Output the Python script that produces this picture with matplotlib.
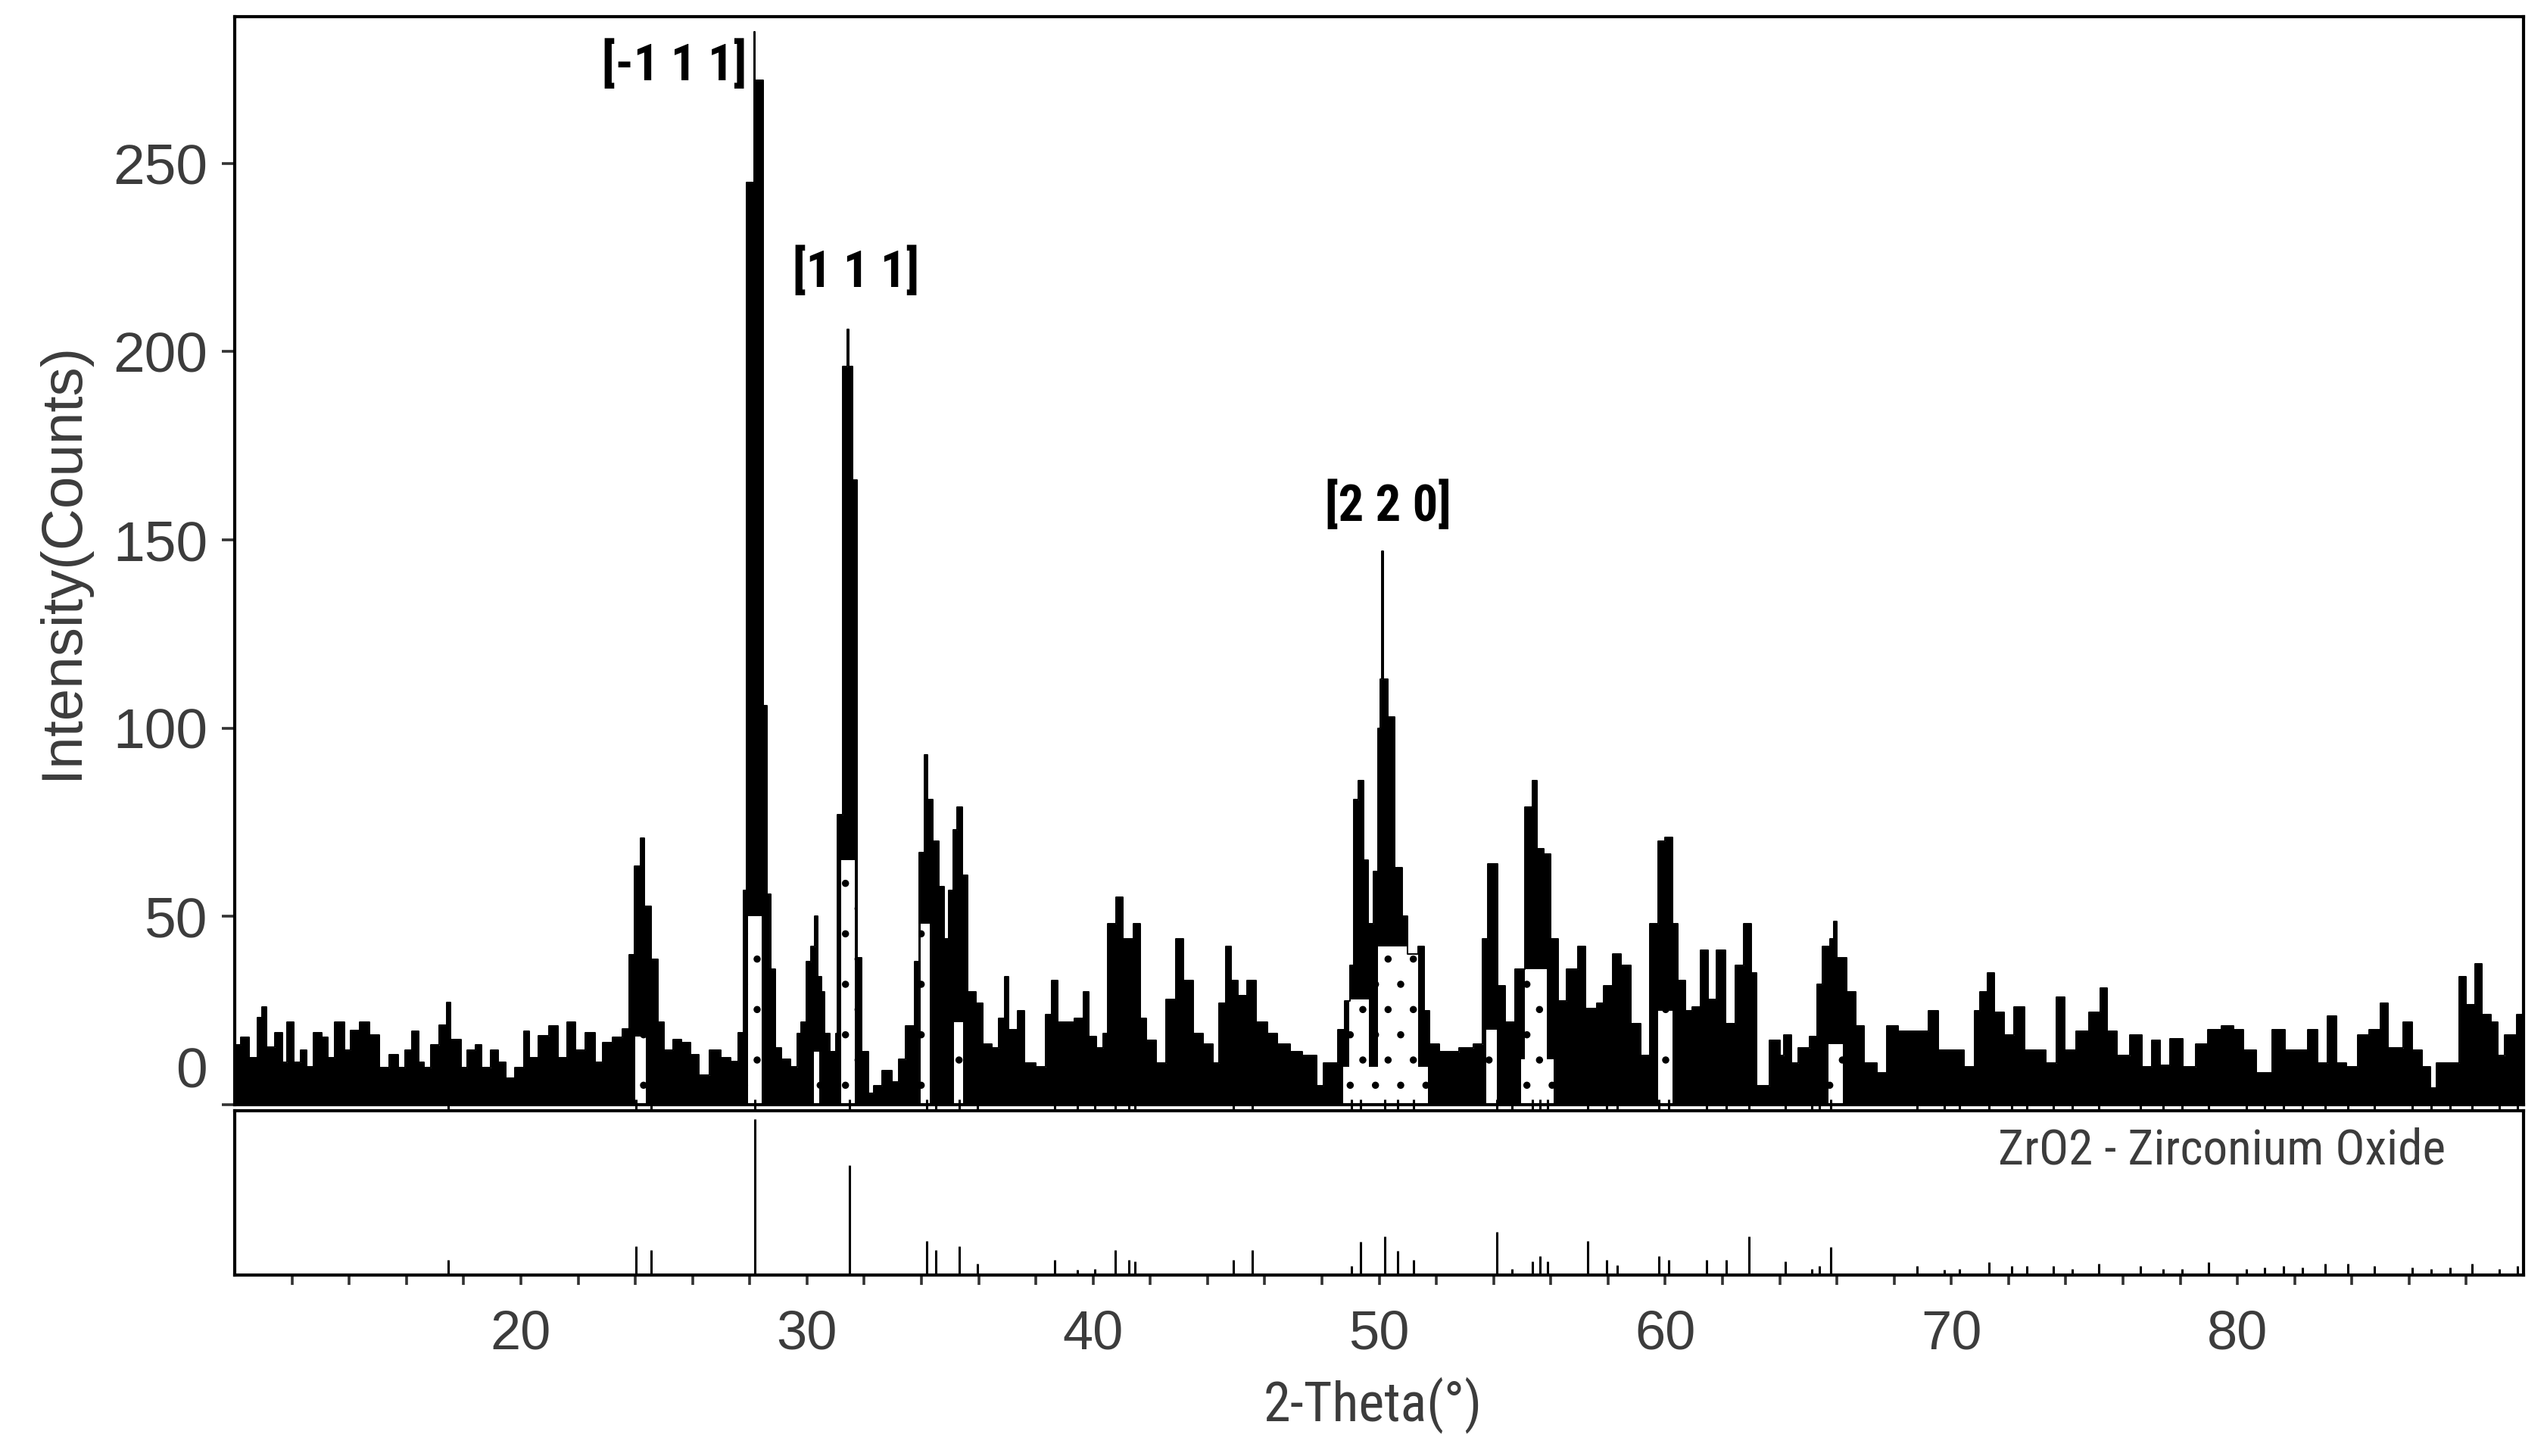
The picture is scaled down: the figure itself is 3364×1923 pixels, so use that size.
import matplotlib
matplotlib.use("Agg")
import matplotlib.pyplot as plt
from matplotlib import font_manager

# Measured pattern: start of each step (2-theta, deg) and its height (counts)
two_theta = [
    10.0, 10.2, 10.5, 10.78, 10.95, 11.12, 11.4, 11.65, 11.83, 12.05,
    12.3, 12.52, 12.75, 13.05, 13.25, 13.5, 13.82, 14.05, 14.35, 14.7,
    15.05, 15.4, 15.7, 15.95, 16.18, 16.42, 16.62, 16.85, 17.15, 17.4,
    17.55, 17.9, 18.12, 18.42, 18.62, 18.95, 19.2, 19.48, 19.78, 20.1,
    20.3, 20.6, 20.98, 21.3, 21.62, 21.9, 22.25, 22.6, 22.85, 23.2,
    23.55, 23.78, 23.98, 24.18, 24.3, 24.55, 24.78, 25.0, 25.32, 25.62,
    25.92, 26.22, 26.6, 26.98, 27.32, 27.6, 27.77, 27.88, 28.15, 28.19,
    28.47, 28.61, 28.74, 28.9, 29.1, 29.43, 29.67, 29.79, 29.97, 30.14,
    30.28, 30.38, 30.5, 30.62, 30.79, 31.0, 31.07, 31.25, 31.41, 31.45,
    31.6, 31.74, 31.9, 32.15, 32.33, 32.62, 32.98, 33.2, 33.45, 33.75,
    33.92, 34.1, 34.2, 34.4, 34.6, 34.78, 34.95, 35.1, 35.25, 35.42,
    35.62, 35.9, 36.15, 36.45, 36.7, 36.9, 37.05, 37.35, 37.6, 38.0,
    38.35, 38.55, 38.75, 39.1, 39.35, 39.65, 39.85, 40.1, 40.35, 40.52,
    40.8, 41.05, 41.4, 41.65, 41.85, 42.2, 42.55, 42.9, 43.15, 43.5,
    43.85, 44.2, 44.4, 44.63, 44.82, 45.05, 45.38, 45.7, 46.1, 46.45,
    46.9, 47.3, 47.82, 48.05, 48.55, 48.8, 48.98, 49.1, 49.28, 49.45,
    49.62, 49.8, 49.95, 50.05, 50.1, 50.14, 50.3, 50.55, 50.8, 51.0,
    51.35, 51.58, 51.75, 52.1, 52.8, 53.3, 53.62, 53.8, 54.15, 54.4,
    54.75, 55.1, 55.35, 55.52, 55.75, 56.0, 56.25, 56.55, 56.95, 57.2,
    57.6, 57.85, 58.15, 58.45, 58.8, 59.15, 59.45, 59.75, 60.0, 60.25,
    60.45, 60.7, 60.95, 61.22, 61.5, 61.8, 62.1, 62.45, 62.75, 63.0,
    63.2, 63.65, 64.0, 64.15, 64.4, 64.65, 65.05, 65.3, 65.5, 65.75,
    65.88, 66.0, 66.35, 66.65, 66.95, 67.4, 67.75, 68.15, 68.65, 69.2,
    69.55, 70.0, 70.45, 70.8, 71.0, 71.25, 71.5, 71.85, 72.2, 72.55,
    73.0, 73.3, 73.68, 73.95, 74.35, 74.8, 75.2, 75.45, 75.8, 76.25,
    76.65, 77.0, 77.3, 77.65, 78.1, 78.55, 78.95, 79.45, 79.85, 80.2,
    80.65, 81.2, 81.65, 82.0, 82.45, 82.8, 83.15, 83.45, 83.8, 84.2,
    84.6, 85.0, 85.25, 85.55, 85.8, 86.1, 86.45, 86.75, 86.95, 87.35,
    87.75, 87.98, 88.3, 88.55, 88.85, 89.1, 89.35, 89.75, 90.0, 90.2,
]
counts = [
    15.8, 17.9, 12.5, 23.2, 25.9, 15.2, 19.2, 11.2, 21.9, 11.2,
    14.5, 10.1, 19.2, 17.9, 12.5, 21.9, 14.5, 19.8, 21.9, 18.5,
    9.8, 13.2, 9.8, 14.5, 19.5, 11.2, 9.8, 15.8, 21.2, 27.2,
    17.2, 9.8, 14.5, 15.8, 9.8, 14.5, 11.2, 7.1, 9.8, 19.5,
    12.5, 18.2, 20.9, 12.5, 21.9, 14.5, 19.2, 11.2, 16.5, 17.9,
    20.2, 39.9, 63.4, 70.7, 52.6, 38.6, 21.9, 14.5, 17.2, 16.5,
    13.2, 7.8, 14.5, 12.5, 11.5, 19.2, 57, 245, 285, 272,
    106, 56, 36, 15, 12, 10, 19, 22, 38, 42,
    50, 34, 30, 19, 14, 19, 77, 196, 206, 196,
    166, 39, 14, 3, 5, 9, 6, 12, 21, 38,
    67, 93, 81, 70, 58, 44, 57, 73, 79, 61,
    30, 27, 16, 15, 23, 34, 20, 25, 11, 10,
    24, 33, 22, 22, 23, 30, 18, 15, 19, 48,
    55, 44, 48, 23, 17, 11, 28, 44, 33, 19,
    16, 11, 27, 42, 33, 29, 33, 22, 19, 16,
    14, 13, 5, 11, 20, 27.5, 37, 81, 86, 65,
    48, 62, 100, 113, 147, 113, 103, 63, 50, 40,
    42, 25, 16, 14, 15, 16, 44, 64, 31.5, 22,
    36, 79, 86, 68, 66.5, 44, 27.5, 36, 42, 25.5,
    27, 31.5, 40, 37, 21.5, 13, 48, 70, 71, 48,
    33, 25, 26, 41, 28, 41, 21.5, 37, 48, 35,
    5, 17, 13, 18.5, 11, 15, 18, 32, 42, 44,
    48.6, 39, 30, 21, 11, 8.5, 21, 19.5, 19.5, 25,
    14.5, 14.5, 10, 25, 30, 35, 24.5, 18.5, 26, 14.5,
    14.5, 11, 28.5, 14.5, 19.5, 24.5, 31, 19.5, 13, 18.5,
    10, 17, 10.5, 17.5, 10, 16, 20, 21, 20, 14.5,
    8.5, 20, 14.5, 14.5, 20, 11, 23.5, 11, 10, 18.5,
    20, 27, 15, 15, 22, 14.5, 10, 4.5, 11, 11,
    34, 26.5, 37.5, 24, 22, 13, 18.5, 24, 13, 13,
]

# Open (white) interiors of the wider peaks, same step layout
core_theta = [10.0, 24.0, 24.36, 27.95, 28.42, 30.25, 30.42, 31.2, 31.68,
              33.98, 34.3, 35.15, 35.45,
              48.75, 48.95, 49.65, 49.95, 51.35, 51.7,
              53.75, 54.1, 54.95, 55.1, 55.85, 56.1,
              59.75, 60.25, 65.7, 66.2, 90.2]
core_counts = [0, 18, 0, 50, 0, 14, 0, 65, 0,
               48, 0, 22, 0,
               10, 28, 10, 42, 10, 0,
               20, 0, 12, 36, 12, 0,
               25, 0, 16, 0, 0]

# Reference card ZrO2 - Zirconium Oxide (relative intensity, %)
ref_theta = [17.45, 24.01, 24.56, 28.17, 31.49, 34.19, 34.5, 35.31, 35.96,
             38.66, 39.44, 40.07, 40.77, 41.25, 41.46, 44.91, 45.56, 49.04,
             49.35, 50.2, 50.65, 51.21, 54.12, 54.65, 55.36, 55.62, 55.89,
             57.28, 57.94, 58.31, 59.77, 60.11, 61.43, 62.14, 62.93, 64.2,
             65.12, 65.39, 65.78, 68.8, 69.74, 70.27, 71.32, 72.12, 72.64,
             73.57, 74.23, 75.15, 76.6, 77.39, 78.05, 78.98, 80.3, 80.96,
             81.62, 82.28, 83.07, 83.86, 84.78, 86.1, 86.76, 87.42, 88.21,
             89.14, 89.8]
ref_intensity = [9.7, 18.6, 16.2, 100, 70.5, 21.9, 16.2, 18.6, 7.3,
                 9.7, 3.2, 4, 16.2, 9.7, 8.9, 9.7, 16.2, 5.7,
                 21.5, 24.6, 15.7, 9.7, 27.6, 4, 8.9, 12, 8.9,
                 21.9, 9.7, 6.5, 12, 9.7, 9.7, 9.7, 25, 8.9,
                 4, 5.7, 17.8, 5.7, 3.2, 4, 8.1, 5.7, 5.7,
                 5.7, 4, 7.3, 5.7, 4, 4, 8.1, 4, 4.8,
                 5.7, 4.8, 7.3, 7.3, 5.7, 4.8, 4, 4.8, 7.3,
                 4, 5.7]

y_ticks = [0, 50, 100, 150, 200, 250]
x_ticks = list(range(12, 90, 2))

peak_labels = ["[-1 1 1]", "[1 1 1]", "[2 2 0]"]
peak_label_pos = [(25.35, 276), (31.7, 221), (50.3, 159)]

# pick a narrow face for the labels if one is installed
installed = font_manager.fontManager.ttflist
names = {f.name for f in installed}
narrow = dict(family=['Liberation Sans', 'DejaVu Sans'])
narrow_found = False
for cand in ['Liberation Sans Narrow', 'Roboto Condensed', 'Open Sans Condensed']:
    if cand in names:
        narrow = dict(family=[cand, 'DejaVu Sans'])
        narrow_found = True
        break
if not narrow_found and any(f.name == 'DejaVu Sans' and f.stretch == 'condensed' for f in installed):
    narrow = dict(family=['DejaVu Sans'], stretch='condensed')
    narrow_found = True
shrink = 1.0 if narrow_found else 0.85

plt.rcParams['font.family'] = ['Liberation Sans', 'DejaVu Sans']
GREY = '#3c3c3c'

fig = plt.figure(figsize=(16.82, 9.615), dpi=200)
ax = fig.add_axes([0.0922, 0.2413, 0.8986, 0.7473])
ax_ref = fig.add_axes([0.0922, 0.1243, 0.8986, 0.1128])

# measured pattern
ax.fill_between(two_theta, 0, counts, step='post', color='black', lw=0)
ax.fill_between(core_theta, 0, core_counts, step='post', facecolor='white',
                edgecolor='black', hatch='.', lw=0)
ax.step(two_theta, counts, where='post', color='black', lw=0.7)

ax.set_xlim(10, 90)
ax.set_ylim(0, 289)
ax.set_xticks([])
ax.set_yticks(y_ticks)
ax.set_yticklabels([''] + [str(v) for v in y_ticks[1:]])
ax.tick_params(axis='y', direction='out', length=6, width=1.3, pad=7,
               labelsize=27, labelcolor=GREY, color='#333333')
ax.annotate('0', xy=(0, 0), xycoords='axes fraction', xytext=(-13, 15),
            textcoords='offset points', ha='right', va='center',
            fontsize=27, color=GREY)
for sp in ax.spines.values():
    sp.set_linewidth(1.5)

for text, (x, y) in zip(peak_labels, peak_label_pos):
    ax.text(x, y, text, ha='center', va='center', fontsize=24 * shrink,
            fontweight='bold', color='black', **narrow)

# reference sticks
ax_ref.vlines(ref_theta, 0, ref_intensity, color='black', lw=1.1)
ax_ref.vlines(ref_theta, 1.0, 1.07, transform=ax_ref.get_xaxis_transform(),
              color='black', lw=1.1, clip_on=False)
ax_ref.set_xlim(10, 90)
ax_ref.set_ylim(0, 105.4)
ax_ref.set_yticks([])
ax_ref.set_xticks(x_ticks)
ax_ref.set_xticklabels([str(t) if t % 10 == 0 else '' for t in x_ticks])
ax_ref.tick_params(axis='x', direction='out', length=4.5, width=1.3, pad=12,
                   labelsize=26, labelcolor=GREY, color='#333333')
for sp in ax_ref.spines.values():
    sp.set_linewidth(1.5)
ax_ref.text(0.966, 0.76, 'ZrO2 - Zirconium Oxide', transform=ax_ref.transAxes,
            ha='right', va='center', fontsize=23.5 * shrink, color=GREY, **narrow)

fig.text(0.0244, 0.615, 'Intensity(Counts)', rotation=90, ha='center',
         va='center', fontsize=27.5, color=GREY,
         family=['Liberation Sans', 'DejaVu Sans'])
fig.text(0.539, 0.0348, '2-Theta(\u00b0)', ha='center', va='center',
         fontsize=26 if narrow_found else 24, color=GREY, **narrow)

fig.savefig('out.png', dpi=200)
